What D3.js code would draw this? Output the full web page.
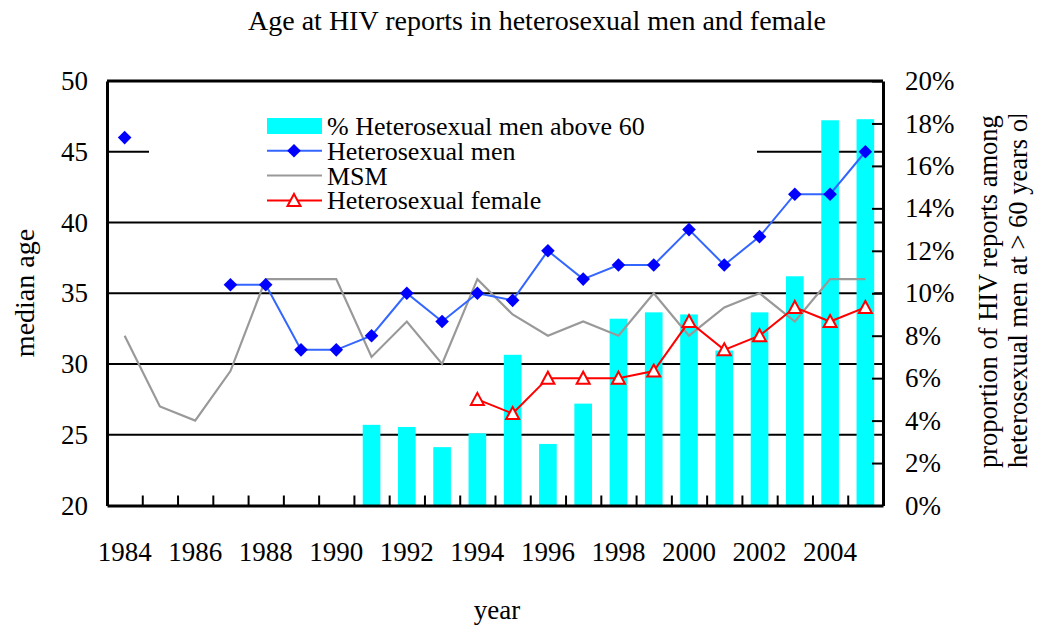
<!DOCTYPE html>
<html>
<head>
  <meta charset="utf-8" />
  <title>Age at HIV reports</title>
  <style>
    body { margin: 0; background: #fff; }
    text { font-family: "Liberation Serif", "Times New Roman", serif; fill: #000; }
  </style>
</head>
<body>
  <svg id="chart" width="1039" height="628"></svg>
  <script src="https://cdn.jsdelivr.net/npm/d3@7/dist/d3.min.js"></script>
  <script>
    var years = d3.range(1984, 2006)
    var yearLabels = [1984, 1986, 1988, 1990, 1992, 1994, 1996, 1998, 2000, 2002, 2004]
    // share of heterosexual men reports above 60 (right axis)
    var above60 = [null, null, null, null, null, null, null, 0.038, 0.037, 0.0275, 0.034, 0.071, 0.029, 0.048, 0.088, 0.091, 0.09, 0.073, 0.091, 0.108, 0.1815, 0.182]
    var heteroMen = [46, null, null, 35.6, 35.6, 31, 31, 32, 35, 33, 35, 34.5, 38, 36, 37, 37, 39.5, 37, 39, 42, 42, 45]
    var msm = [32, 27, 26, 29.5, 36, 36, 36, 30.5, 33, 30, 36, 33.5, 32, 33, 32, 35, 32, 34, 35, 33, 36, 36]
    var heteroFemale = [null, null, null, null, null, null, null, null, null, null, 27.5, 26.5, 29, 29, 29, 29.5, 33, 31, 32, 34, 33, 34]
    var leftTicks = [20, 25, 30, 35, 40, 45, 50]
    var rightTicks = d3.range(0, 0.201, 0.02)

    var svg = d3.select('#chart')
    var pLeft = 107, pRight = 883, pTop = 81, pBottom = 505.5

    var x = d3.scaleBand().domain(years).range([pLeft, pRight]).paddingInner(0.5).paddingOuter(0.25)
    var slot = d3.scaleLinear().domain([0, years.length]).range([pLeft, pRight])
    var yL = d3.scaleLinear().domain([20, 50]).range([pBottom, pTop])
    var yR = d3.scaleLinear().domain([0, 0.2]).range([pBottom, pTop])
    var cx = function (yr) { return x(yr) + x.bandwidth() / 2 }

    // title
    svg.append('text').attr('x', 537).attr('y', 30).attr('text-anchor', 'middle')
      .style('font-size', '28px').text('Age at HIV reports in heterosexual men and female')

    // gridlines
    svg.append('g').selectAll('line').data(leftTicks.slice(1, -1)).enter().append('line')
      .attr('x1', pLeft).attr('x2', pRight)
      .attr('y1', function (d) { return yL(d) }).attr('y2', function (d) { return yL(d) })
      .attr('stroke', '#000').attr('stroke-width', 2)

    // bars
    var barData = years.map(function (yr, i) { return { year: yr, v: above60[i] } }).filter(function (d) { return d.v != null })
    svg.append('g').selectAll('rect').data(barData).enter().append('rect')
      .attr('x', function (d) { return x(d.year) })
      .attr('width', x.bandwidth())
      .attr('y', function (d) { return yR(d.v) })
      .attr('height', function (d) { return pBottom - yR(d.v) })
      .attr('fill', '#00FFFF')

    // lines
    function series(vals) {
      return years.map(function (yr, i) { return { year: yr, v: vals[i] } })
    }
    var line = d3.line()
      .defined(function (d) { return d.v != null })
      .x(function (d) { return cx(d.year) })
      .y(function (d) { return yL(d.v) })

    svg.append('path').datum(series(msm)).attr('d', line)
      .attr('fill', 'none').attr('stroke', '#999999').attr('stroke-width', 2.2)
    svg.append('path').datum(series(heteroMen)).attr('d', line)
      .attr('fill', 'none').attr('stroke', '#3366FF').attr('stroke-width', 2)
    svg.append('path').datum(series(heteroFemale)).attr('d', line)
      .attr('fill', 'none').attr('stroke', '#FF0000').attr('stroke-width', 2)

    var diamond = 'M0,-6.8L6.8,0L0,6.8L-6.8,0Z'
    var triangle = 'M0,-6.5L6.5,5.5L-6.5,5.5Z'

    svg.append('g').selectAll('path').data(series(heteroMen).filter(function (d) { return d.v != null }))
      .enter().append('path').attr('d', diamond)
      .attr('transform', function (d) { return 'translate(' + cx(d.year) + ',' + yL(d.v) + ')' })
      .attr('fill', '#0000FF')
    svg.append('g').selectAll('path').data(series(heteroFemale).filter(function (d) { return d.v != null }))
      .enter().append('path').attr('d', triangle)
      .attr('transform', function (d) { return 'translate(' + cx(d.year) + ',' + yL(d.v) + ')' })
      .attr('fill', '#fff').attr('stroke', '#FF0000').attr('stroke-width', 2)

    // frame
    svg.append('line').attr('x1', pLeft).attr('x2', pRight).attr('y1', pTop).attr('y2', pTop)
      .attr('stroke', '#000').attr('stroke-width', 3)

    // x axis: ticks between categories
    var xTicks = svg.append('g').attr('transform', 'translate(0,' + pBottom + ')')
      .call(d3.axisBottom(slot).tickValues(d3.range(1, years.length)).tickSize(-10).tickSizeOuter(0).tickFormat(''))
    xTicks.select('.domain').attr('stroke-width', 3)
    xTicks.selectAll('.tick line').attr('stroke-width', 2)

    var xLabels = svg.append('g').attr('transform', 'translate(0,' + pBottom + ')')
      .call(d3.axisBottom(x).tickValues(yearLabels).tickSize(0).tickPadding(36))
    xLabels.select('.domain').remove()
    xLabels.selectAll('text').style('font-size', '27px').attr('font-family', null)

    // left axis
    var yAxisL = svg.append('g').attr('transform', 'translate(' + pLeft + ',0)')
      .call(d3.axisLeft(yL).tickValues(leftTicks).tickSize(0).tickPadding(19))
    yAxisL.select('.domain').attr('stroke-width', 3)
    yAxisL.selectAll('text').style('font-size', '27px').attr('font-family', null)

    // right axis
    var yAxisR = svg.append('g').attr('transform', 'translate(' + pRight + ',0)')
      .call(d3.axisRight(yR).tickValues(rightTicks).tickSize(-11).tickSizeOuter(0).tickPadding(22).tickFormat(d3.format('.0%')))
    yAxisR.select('.domain').attr('stroke-width', 3)
    yAxisR.selectAll('.tick line').attr('stroke-width', 2)
    yAxisR.selectAll('text').style('font-size', '27px').attr('font-family', null)

    // axis titles
    svg.append('text').attr('transform', 'translate(34,293) rotate(-90)').attr('text-anchor', 'middle')
      .style('font-size', '28px').text('median age')
    svg.append('text').attr('x', 497).attr('y', 619).attr('text-anchor', 'middle')
      .style('font-size', '27px').text('year')

    svg.append('clipPath').attr('id', 'rclip').append('rect')
      .attr('x', 960).attr('y', 115).attr('width', 79).attr('height', 400)
    var rt = svg.append('g').attr('clip-path', 'url(#rclip)')
    rt.append('text').attr('transform', 'translate(997,468) rotate(-90)')
      .style('font-size', '26.5px').text('proportion of HIV reports among')
    rt.append('text').attr('transform', 'translate(1027,468) rotate(-90)')
      .style('font-size', '26.5px').text('heterosexual men at > 60 years old')

    // legend
    var legendItems = [
      { name: '% Heterosexual men above 60', type: 'bar' },
      { name: 'Heterosexual men', type: 'men' },
      { name: 'MSM', type: 'msm' },
      { name: 'Heterosexual female', type: 'female' }
    ]
    var lg = svg.append('g')
    lg.append('rect').attr('x', 149).attr('y', 108).attr('width', 608).attr('height', 108).attr('fill', '#fff')
    var row = lg.selectAll('g.item').data(legendItems).enter().append('g')
      .attr('transform', function (d, i) { return 'translate(267,' + (126 + i * 24.8) + ')' })
    row.each(function (d) {
      var g = d3.select(this)
      if (d.type === 'bar') {
        g.append('rect').attr('x', 0).attr('y', -8).attr('width', 55).attr('height', 16).attr('fill', '#00FFFF')
      } else {
        var col = d.type === 'men' ? '#3366FF' : d.type === 'msm' ? '#999999' : '#FF0000'
        g.append('line').attr('x1', 0).attr('x2', 55).attr('stroke', col).attr('stroke-width', 2)
        if (d.type === 'men') g.append('path').attr('d', diamond).attr('transform', 'translate(27,0)').attr('fill', '#0000FF')
        if (d.type === 'female') g.append('path').attr('d', triangle).attr('transform', 'translate(27,0)')
          .attr('fill', '#fff').attr('stroke', '#FF0000').attr('stroke-width', 2)
      }
      g.append('text').attr('x', 60).attr('y', 9).style('font-size', '26px').text(d.name)
    })
  </script>
</body>
</html>
